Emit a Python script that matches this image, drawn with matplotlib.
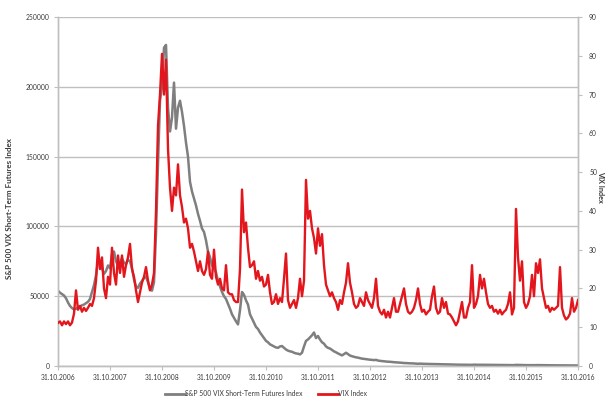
import matplotlib
matplotlib.use('Agg')
import matplotlib.pyplot as plt
import pandas as pd
from matplotlib.lines import Line2D

plt.rcParams['font.family'] = ['Lato', 'DejaVu Sans']

start_date = '2006-10-31'
end_date = '2016-10-31'
tick_dates = ['2006-10-31', '2007-10-31', '2008-10-31', '2009-10-31', '2010-10-31',
              '2011-10-31', '2012-10-31', '2013-10-31', '2014-10-31', '2015-10-31',
              '2016-10-31']
tick_labels = ['31.10.2006', '31.10.2007', '31.10.2008', '31.10.2009', '31.10.2010',
               '31.10.2011', '31.10.2012', '31.10.2013', '31.10.2014', '31.10.2015',
               '31.10.2016']
left_ticks = [0, 50000, 100000, 150000, 200000, 250000]
right_ticks = [0, 10, 20, 30, 40, 50, 60, 70, 80, 90]

series_names = ['S&P 500 VIX Short-Term Futures Index', 'VIX Index']

# S&P 500 VIX Short-Term Futures Index (left axis), sampled roughly every two weeks
spvxst = [
    54000, 52500, 51500, 50500, 48500, 45500, 43000, 41500, 40500, 41000,
    42000, 42500, 43500, 44000, 45000, 46000, 48000, 53000, 58000, 65000,
    75000, 73000, 70000, 66000, 68000, 72000, 70000, 80000, 82000, 75000,
    72000, 74000, 77000, 74000, 73000, 76000, 75000, 70000, 62000, 57000,
    56000, 59000, 61000, 63000, 64000, 60000, 55000, 54000, 60000, 95000,
    145000, 190000, 200000, 228000, 230000, 185000, 168000, 178000, 203000, 170000,
    185000, 190000, 182000, 172000, 160000, 150000, 132000, 125000, 120000, 115000,
    109000, 104000, 98500, 96000, 90000, 82000, 78000, 72000, 70000, 67000,
    61000, 57000, 53000, 50000, 48000, 44500, 41000, 37000, 34500, 32000,
    29800, 40000, 53000, 51000, 47000, 44000, 37000, 34000, 31000, 28000,
    26500, 24000, 22000, 20000, 18000, 17000, 15500, 14800, 14000, 13300,
    13000, 14000, 14300, 13000, 11800, 11000, 10500, 10200, 9500, 9000,
    8800, 8300, 9500, 14000, 18000, 19000, 20500, 22000, 24000, 20000,
    21500, 19000, 17000, 16000, 14000, 13000, 12500, 11500, 10500, 9800,
    9000, 8300, 7600, 8500, 9500, 8500, 7500, 7000, 6600, 6200,
    6000, 5600, 5300, 5100, 4900, 4700, 4500, 4400, 4200, 4400,
    3900, 3700, 3500, 3400, 3200, 3100, 3000, 2900, 2700, 2600,
    2500, 2400, 2300, 2100, 2100, 2000, 1900, 1900, 1800, 1700,
    1600, 1700, 1600, 1550, 1500, 1500, 1450, 1400, 1400, 1350,
    1300, 1300, 1250, 1200, 1200, 1150, 1100, 1050, 1000, 980,
    950, 930, 900, 880, 860, 850, 840, 830, 950, 900,
    880, 900, 870, 850, 820, 790, 770, 750, 730, 710,
    700, 690, 680, 670, 660, 650, 660, 640, 630, 800,
    750, 700, 720, 650, 620, 600, 590, 620, 600, 650,
    640, 650, 600, 570, 550, 530, 520, 500, 490, 480,
    470, 520, 480, 450, 430, 420, 410, 400, 390, 380,
    380,
]

# VIX Index (right axis), same sampling
vix = [
    11.1, 11.5, 10.5, 11.5, 10.8, 11.5, 10.5, 11.2, 13.5, 19.5,
    14.5, 15.5, 14, 15, 14.2, 15, 16, 15.5, 17.5, 22,
    30.5, 25, 28, 20, 17.5, 23, 21, 30.5, 24, 21,
    28.5, 24, 28.5, 23, 26, 28, 31.5, 25, 23, 19.5,
    16.5, 19, 21.5, 23, 25.5, 22, 19.5, 21, 24, 40,
    62, 70, 80.5, 70, 79, 56, 46, 40, 46, 44,
    52, 44, 41, 37, 38, 35.5, 30.5, 31.5, 29.5, 27,
    24.5, 27, 24.5, 23.5, 25, 29.5, 23.5, 22.5, 30, 23,
    21, 22.5, 20, 19.5, 26, 19, 18.5, 18.5, 17, 16.5,
    16.5, 25, 45.5, 34.5, 37, 30.5, 25.5, 26, 27, 22.5,
    24.5, 22, 23, 20.5, 21, 23.5, 19, 16, 16.5, 18.5,
    16, 17.5, 16.5, 22.5, 29, 17, 15, 16, 17, 15,
    17.5, 22.5, 18, 22, 48, 38, 40, 35.5, 33, 29,
    35.5, 31, 34, 26, 21, 19.5, 18, 19, 17.5, 16.5,
    14.5, 17, 16, 19, 21.5, 26.5, 21.5, 19, 16, 15,
    15.5, 17.5, 16.5, 15.5, 19, 17, 16, 15, 17.5, 22.5,
    15.5, 14, 13.3, 14.5, 12.5, 14, 12.5, 15, 17.5, 14,
    14, 16, 18, 20, 16, 14, 13.5, 14, 15, 17,
    20, 16, 14, 14.5, 13.3, 14, 14.5, 18, 20.5, 15,
    13.5, 14, 17.5, 15, 16.5, 13.5, 13.3, 12.5, 11.5, 10.5,
    11.5, 14, 16.5, 12.5, 12.5, 15, 16.5, 26, 15, 16,
    18, 23.5, 20, 22.5, 19, 16, 15, 15.5, 14, 14.5,
    13.5, 14.5, 13.3, 14, 14.5, 16, 19, 13.3, 15, 40.5,
    28, 22, 27, 16.5, 15, 16, 18, 23.5, 18, 26.5,
    24, 27.5, 20, 17.5, 15, 15.5, 14, 15, 14.5, 15,
    15.5, 25.5, 15, 13, 12, 12.5, 13.5, 17.5, 14, 15,
    17,
]

assert len(spvxst) == len(vix) == 261

dates = pd.date_range(start_date, end_date, periods=len(vix))

GRAY = '#7F7F7F'
RED = '#E2161C'
GRID = '#BFBFBF'
TXT = '#3A3A3A'
FS = 4.9

fig = plt.figure(figsize=(6.08, 4.0), dpi=100)
ax = fig.add_axes([58 / 608, 34 / 400, 520 / 608, 349 / 400])
ax2 = ax.twinx()

ax.plot(dates, spvxst, color=GRAY, lw=1.8, zorder=3)
ax2.plot(dates, vix, color=RED, lw=1.7, zorder=3)

ax.set_xlim(pd.Timestamp(start_date), pd.Timestamp(end_date))
ax.set_ylim(0, 250000)
ax2.set_ylim(0, 90)
ax.set_yticks(left_ticks)
ax.set_yticklabels([str(v) for v in left_ticks])
ax2.set_yticks(right_ticks)
ax2.set_yticklabels([str(v) for v in right_ticks])
ax.set_xticks(pd.to_datetime(tick_dates))
ax.set_xticklabels(tick_labels)

ax.grid(axis='y', color=GRID, lw=1.0, zorder=0)
ax.set_axisbelow(True)

for a in (ax, ax2):
    a.spines['top'].set_visible(False)
    for s in ('left', 'right', 'bottom'):
        a.spines[s].set_color(GRID)
        a.spines[s].set_linewidth(1.0)
    a.tick_params(colors=GRID, labelcolor=TXT, labelsize=FS, length=3, width=0.8)

ax.tick_params(axis='y', pad=3)
ax2.tick_params(axis='y', pad=5)
ax.tick_params(axis='x', pad=3)

ax.set_ylabel(series_names[0], fontsize=5.8, fontweight='bold', color=TXT,
              va='center', ha='center')
ax.yaxis.set_label_coords((10 - 58) / 520, 0.45)
ax2.set_ylabel(series_names[1], fontsize=5.2, fontweight='bold', color=TXT,
               rotation=-90, va='center', ha='center')
ax2.yaxis.set_label_coords((601 - 58) / 520, 0.514)

handles = [Line2D([0], [0], color=GRAY, lw=2.0), Line2D([0], [0], color=RED, lw=2.0)]
fig.legend(handles, series_names, loc='center', bbox_to_anchor=(266 / 608, 6 / 400),
           ncol=2, frameon=False, fontsize=FS, handlelength=2.9, handletextpad=0.0,
           columnspacing=2.4, labelcolor=TXT)

fig.savefig('out.png', dpi=100)
